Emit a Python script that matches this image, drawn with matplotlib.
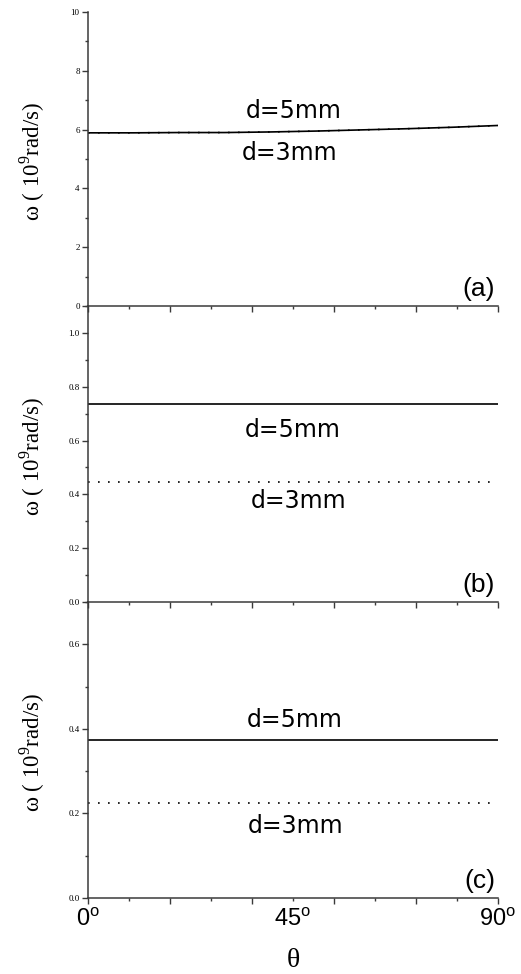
import numpy as np
import matplotlib.pyplot as plt
from matplotlib.ticker import MultipleLocator

plt.rcParams["mathtext.fontset"] = "custom"
plt.rcParams["mathtext.rm"] = "Liberation Serif"
plt.rcParams["mathtext.sf"] = "Liberation Sans"

# ---------------------------------------------------------------
# data
# ---------------------------------------------------------------
theta_a = [0, 10, 20, 30, 40, 50, 60, 70, 80, 90]
omega_a_5mm = [5.89, 5.89, 5.90, 5.90, 5.92, 5.95, 5.99, 6.03, 6.08, 6.14]
omega_a_3mm = [5.89, 5.89, 5.90, 5.90, 5.92, 5.95, 5.99, 6.03, 6.08, 6.14]

theta_bc = [0, 90]
omega_b_5mm = [0.737, 0.737]
omega_b_3mm = [0.446, 0.446]
omega_c_5mm = [0.373, 0.373]
omega_c_3mm = [0.225, 0.225]

panel_tags = ["(a)", "(b)", "(c)"]
ylims = [(0, 10), (0, 1.1), (0, 0.7)]
ymajor = [2, 0.2, 0.2]
ylabels_fmt = ["{:.0f}", "{:.1f}", "{:.1f}"]
# label positions (theta, omega) for d=5mm / d=3mm
lab5 = [(45.2, 6.39), (45.0, 0.613), (45.3, 0.405)]
lab3 = [(44.3, 4.97), (46.3, 0.349), (45.6, 0.154)]
xtick_labels = [0, 45, 90]

series = [
    (theta_a, omega_a_5mm, omega_a_3mm),
    (theta_bc, omega_b_5mm, omega_b_3mm),
    (theta_bc, omega_c_5mm, omega_c_3mm),
]

W, H = 521, 974
fig = plt.figure(figsize=(W / 100, H / 100), dpi=100)
left, right = 88 / W, 498 / W
edges = [12, 306, 602, 898]

spine_c = "#3a3a3a"
for i in range(3):
    top = 1 - edges[i] / H
    bot = 1 - edges[i + 1] / H
    ax = fig.add_axes([left, bot, right - left, top - bot])
    ax.patch.set_visible(False)
    th, w5, w3 = series[i]
    ax.plot(th, w3, color="black", lw=1.2, ls=(0, (1, 5)))
    ax.plot(th, w5, color="black", lw=1.2)

    ax.set_xlim(0, 90)
    ax.set_ylim(*ylims[i])
    for s in ["top", "right"]:
        ax.spines[s].set_visible(False)
    for s in ["left", "bottom"]:
        ax.spines[s].set_color(spine_c)
        ax.spines[s].set_linewidth(1.1)

    ax.xaxis.set_major_locator(MultipleLocator(18))
    ax.xaxis.set_minor_locator(MultipleLocator(9))
    ax.set_xticklabels([])
    ax.yaxis.set_major_locator(MultipleLocator(ymajor[i]))
    ax.yaxis.set_minor_locator(MultipleLocator(ymajor[i] / 2))
    yt = np.arange(ylims[i][0], ylims[i][1] + 1e-9, ymajor[i])
    ax.set_yticks(yt)
    ax.set_yticklabels([ylabels_fmt[i].format(v) for v in yt],
                       fontfamily="Liberation Serif", fontsize=6.5)
    ax.tick_params(axis="both", which="major", direction="out", length=4.5,
                   width=1, color=spine_c, pad=1.5)
    ax.tick_params(axis="both", which="minor", direction="out", length=2.5,
                   width=1, color=spine_c)

    ax.text(*lab5[i], "d=5mm", ha="center", va="baseline",
            fontfamily="DejaVu Sans", fontsize=17)
    ax.text(*lab3[i], "d=3mm", ha="center", va="baseline",
            fontfamily="DejaVu Sans", fontsize=17)
    ax.text(0.993, 0.018, panel_tags[i], transform=ax.transAxes,
            ha="right", va="bottom", fontfamily="Liberation Sans", fontsize=19)

    ax.text(-0.135, 0.49, "ω ( 10$^{9}$rad/s)", transform=ax.transAxes,
            rotation=90, ha="center", va="center",
            fontfamily="Liberation Serif", fontsize=16.5)

    if i == 2:
        for v in xtick_labels:
            ax.annotate(f"{v}$^\\mathsf{{o}}$", xy=(v, 0), xycoords=("data", "axes fraction"),
                        xytext=(0, -7), textcoords="offset points",
                        ha="center", va="top", fontfamily="Liberation Sans", fontsize=17)
        ax.text(0.5, -0.17, "θ", transform=ax.transAxes, ha="center", va="top",
                fontfamily="Liberation Serif", fontsize=20)

fig.savefig("out.png", dpi=100)
